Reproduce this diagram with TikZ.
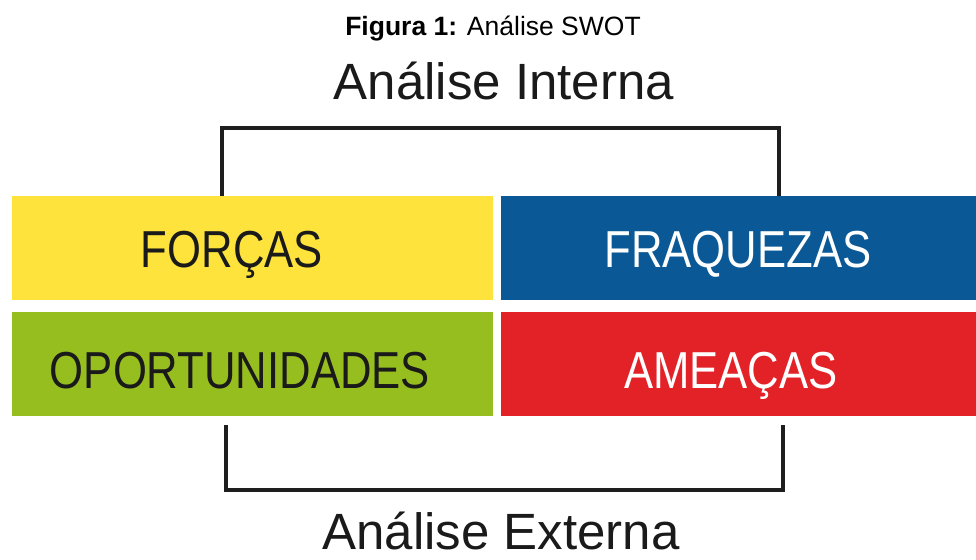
\documentclass[tikz,border=0pt]{standalone}
\usepackage{fontspec}
\setmainfont{Liberation Sans}
\usepackage{graphicx}
\definecolor{swyellow}{HTML}{FDE33B}
\definecolor{swblue}{HTML}{0A5996}
\definecolor{swgreen}{HTML}{97BE1F}
\definecolor{swred}{HTML}{E22227}
\definecolor{swline}{HTML}{1E1E1E}
\definecolor{swdark}{HTML}{1A1A1A}
\newcommand{\swlabel}[1]{\scalebox{0.84}[1]{#1}}
\tikzset{
  quad/.style={draw=none, inner sep=0pt, outer sep=0pt, minimum height=104pt},
  quadtext/.style={anchor=base, inner sep=0pt, font=\fontsize{52}{52}\selectfont},
  headtext/.style={anchor=base, inner sep=0pt, font=\fontsize{51}{51}\selectfont, text=swdark},
  bracket/.style={draw=swline, line width=4pt, line join=miter},
}
\begin{document}
\begin{tikzpicture}[x=1pt, y=-1pt]
\useasboundingbox[fill=white] (0,0) rectangle (976,559);
% title
\node[anchor=base, inner sep=0pt, font=\fontsize{26.5}{26.5}\selectfont] (title) at (493,36) {\textbf{Figura 1:} Análise SWOT};
% headings
\node[headtext] (interna) at (504,100) {Análise Interna};
\node[headtext] (externa) at (501,549) {Análise Externa};
% quadrants
\node[quad, fill=swyellow, minimum width=481pt] (forcas) at (252,248) {};
\node[quad, fill=swblue, minimum width=476pt] (fraquezas) at (739,248) {};
\node[quad, fill=swgreen, minimum width=481pt] (oport) at (252,363.5) {};
\node[quad, fill=swred, minimum width=476pt] (ameacas) at (739,363.5) {};
% labels
\node[quadtext, text=swdark] (tforcas) at (232,267) {\swlabel{FORÇAS}};
\node[quadtext, text=white] (tfraq) at (738,267) {\swlabel{FRAQUEZAS}};
\node[quadtext, text=swdark] (toport) at (240,388) {\swlabel{OPORTUNIDADES}};
\node[quadtext, text=white] (tamea) at (731,388) {\swlabel{AMEAÇAS}};
% brackets
\coordinate (tl) at (222,128);
\coordinate (tr) at (779,128);
\coordinate (bl) at (226,490);
\coordinate (br) at (783,490);
\draw[bracket] (tl |- forcas.north) -- (tl) -- (tr) -- (tr |- fraquezas.north);
\draw[bracket] ([yshift=-9pt]bl |- oport.south) -- (bl) -- (br) -- ([yshift=-9pt]br |- ameacas.south);
\end{tikzpicture}
\end{document}
